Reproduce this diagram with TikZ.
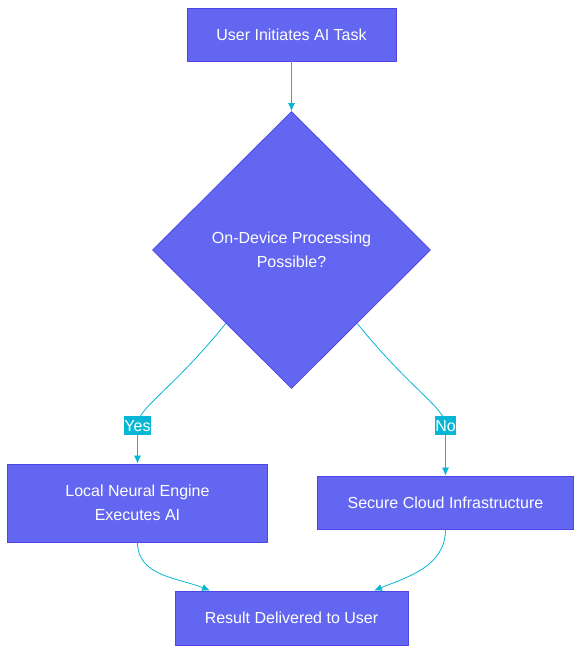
\documentclass[tikz,border=0pt]{standalone}
\usepackage{fontspec}
\setmainfont{Liberation Sans}
\usepackage{xcolor}
\usetikzlibrary{positioning, shapes.geometric, arrows.meta}
\definecolor{boxfill}{HTML}{6366F1}
\definecolor{boxline}{HTML}{4F46E5}
\definecolor{flowline}{HTML}{06B6D4}

\begin{document}
\begin{tikzpicture} [x = 1pt, y = 1pt, on grid, auto,
        task/.style = {draw = boxline, fill = boxfill, text = white, line width = 0.8pt,
          minimum height = 53pt, align = center, font = \fontsize{16}{24}\selectfont},
        check/.style = {task, diamond, minimum width = 278pt, minimum height = 277pt},
        flow/.style = {draw = flowline, line width = 0.8pt, -{Latex[length = 8pt, width = 7pt]}},
        tag/.style = {fill = flowline, text = white, inner xsep = 0.5pt, inner ysep = 4pt,
          font = \fontsize{16}{18}\selectfont}]

        \useasboundingbox (0,0) rectangle (582,654);

        \node (start) [task, minimum width = 209pt] at (291.5,619.5) {User Initiates AI Task};
        \node (check) [check, below = 215.5pt of start] {On-Device Processing\\Possible?};
        \node (local) [task, minimum width = 260pt, minimum height = 78pt,
        below left = 253pt and 154pt of check] {Local Neural Engine\\Executes AI};
        \node (cloud) [task, minimum width = 256pt,
        below right = 252.5pt and 154pt of check] {Secure Cloud Infrastructure};
        \node (result) [task, minimum width = 233pt, minimum height = 54pt,
        below = 368pt of check] {Result Delivered to User};

        \coordinate (yesat) at ([yshift = 38pt]local.north);
        \coordinate (noat) at ([yshift = 50pt]cloud.north);
        \coordinate (inleft) at ([xshift = -81.5pt]result.north);
        \coordinate (inright) at ([xshift = 82.5pt]result.north);

        \draw [flow] (check.south west) ++(4,-4) .. controls +(-55,-68) and +(0,18) .. (yesat)
         node [tag] (yes) {Yes} -- (local);
        \draw [flow] (check.south east) ++(-4,-4) .. controls +(55,-68) and +(0,18) .. (noat)
         node [tag] (no) {No} -- (cloud);
        \draw [flow] (start) -- (check);
        \draw [flow] (local) to [out = -90, in = 158] (inleft);
        \draw [flow] (cloud) to [out = -90, in = 22] (inright);

    \end{tikzpicture}
\end{document}
